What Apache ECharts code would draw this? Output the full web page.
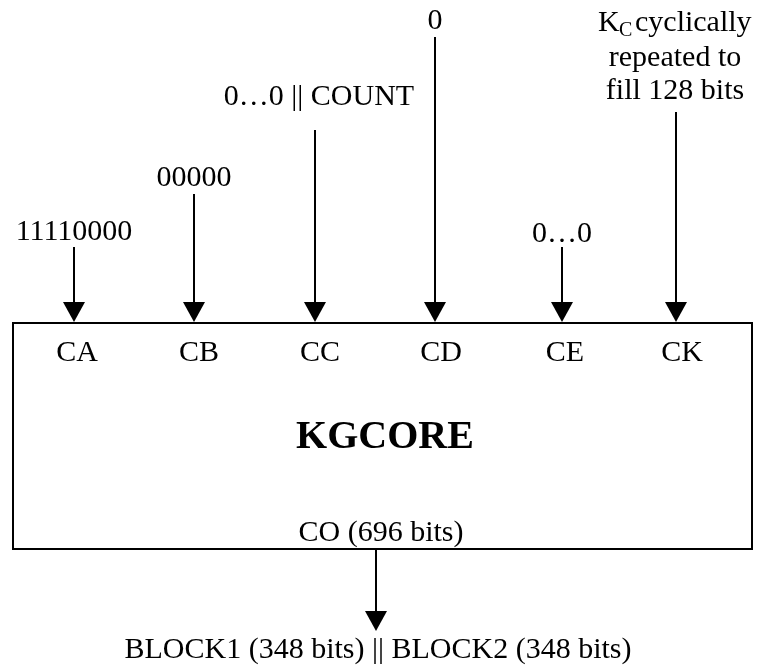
<!DOCTYPE html>
<html>
<head>
<meta charset="utf-8">
<script src="https://cdn.jsdelivr.net/npm/echarts@6/dist/echarts.min.js"></script>
<style>html,body{margin:0;padding:0;background:#fff;}#c{width:759px;height:666px;}</style>
</head>
<body>
<div id="c"></div>
<script>
// Diagram data (in a 759 x 666 data space, y grows downwards)
var inputNames   = ['CA', 'CB', 'CC', 'CD', 'CE', 'CK'];
var inputValues  = ['11110000', '00000', '0…0 || COUNT', '0', '0…0', null];
var arrowX       = [74, 194, 315, 435, 562, 676];
var arrowTopY    = [247, 194, 130, 37, 247, 112];
var valueLabelX  = [74, 194, 319, 435, 562, 675];
var valueLabelY  = [232, 178, 97, 21, 234, 23];
var nameLabelX   = [77, 199, 320, 441, 565, 682];
var kcLine1      = ['K', 'C', 'cyclically'];
var kcLine1X     = [598, 619, 635];
var kcLine1Y     = [23, 31, 23];
var kcExtraLines = ['repeated to', 'fill 128 bits'];
var kcExtraX     = [675, 675];
var kcExtraY     = [58, 91];
var boxCorners   = [[13, 323], [752, 549]];
var coreName     = 'KGCORE';
var outputName   = 'CO (696 bits)';
var outputArrow  = [376, 549, 631];
var resultLabel  = 'BLOCK1 (348 bits) || BLOCK2 (348 bits)';

var FONT = '"Liberation Serif", "Times New Roman", serif';
var chart = echarts.init(document.getElementById('c'), null, {renderer: 'canvas'});

var arrowData = arrowX.map(function (x, i) { return [x, arrowTopY[i], 322]; });
arrowData.push([outputArrow[0], outputArrow[1], outputArrow[2]]);

// [x, y, text, kind, align]
var texts = [];
inputValues.forEach(function (t, i) {
  if (t !== null) texts.push([valueLabelX[i], valueLabelY[i], t, 'n', 'center']);
});
kcLine1.forEach(function (t, i) {
  texts.push([kcLine1X[i], kcLine1Y[i], t, i === 1 ? 's' : 'n', 'left']);
});
kcExtraLines.forEach(function (t, i) { texts.push([kcExtraX[i], kcExtraY[i], t, 'n', 'center']); });
inputNames.forEach(function (t, i) { texts.push([nameLabelX[i], 353, t, 'n', 'center']); });
texts.push([385, 438, coreName, 'b', 'center']);
texts.push([381, 533, outputName, 'n', 'center']);
texts.push([378, 650, resultLabel, 'n', 'center']);

var option = {
  animation: false,
  backgroundColor: '#ffffff',
  grid: {left: 0, right: 0, top: 0, bottom: 0},
  xAxis: {type: 'value', min: 0, max: 759, show: false},
  yAxis: {type: 'value', min: 0, max: 666, inverse: true, show: false},
  series: [
    {
      type: 'custom', clip: false, silent: true,
      data: [[boxCorners[0][0], boxCorners[0][1], boxCorners[1][0], boxCorners[1][1]]],
      renderItem: function (params, api) {
        var a = api.coord([api.value(0), api.value(1)]);
        var b = api.coord([api.value(2), api.value(3)]);
        return {
          type: 'rect',
          shape: {x: a[0], y: a[1], width: b[0] - a[0], height: b[1] - a[1]},
          style: {fill: '#fff', stroke: '#000', lineWidth: 2}
        };
      }
    },
    {
      type: 'custom', clip: false, silent: true,
      data: arrowData,
      renderItem: function (params, api) {
        var top = api.coord([api.value(0), api.value(1)]);
        var tip = api.coord([api.value(0), api.value(2)]);
        var hh = 20, hw = 11;
        return {
          type: 'group',
          children: [
            {type: 'line', shape: {x1: top[0], y1: top[1], x2: tip[0], y2: tip[1] - hh + 2},
             style: {stroke: '#000', lineWidth: 2}},
            {type: 'polygon', shape: {points: [[tip[0] - hw, tip[1] - hh], [tip[0] + hw, tip[1] - hh], [tip[0], tip[1]]]},
             style: {fill: '#000'}}
          ]
        };
      }
    },
    {
      type: 'custom', clip: false, silent: true,
      data: texts,
      renderItem: function (params, api) {
        var d = texts[params.dataIndex];
        var p = api.coord([d[0], d[1]]);
        var font = d[3] === 'b' ? 'bold 40px ' : (d[3] === 's' ? '20px ' : '30px ');
        return {
          type: 'text',
          style: {
            text: d[2], x: p[0], y: p[1], align: d[4], verticalAlign: 'middle',
            fill: '#000', font: font + FONT
          }
        };
      }
    }
  ]
};
chart.setOption(option);
</script>
</body>
</html>
